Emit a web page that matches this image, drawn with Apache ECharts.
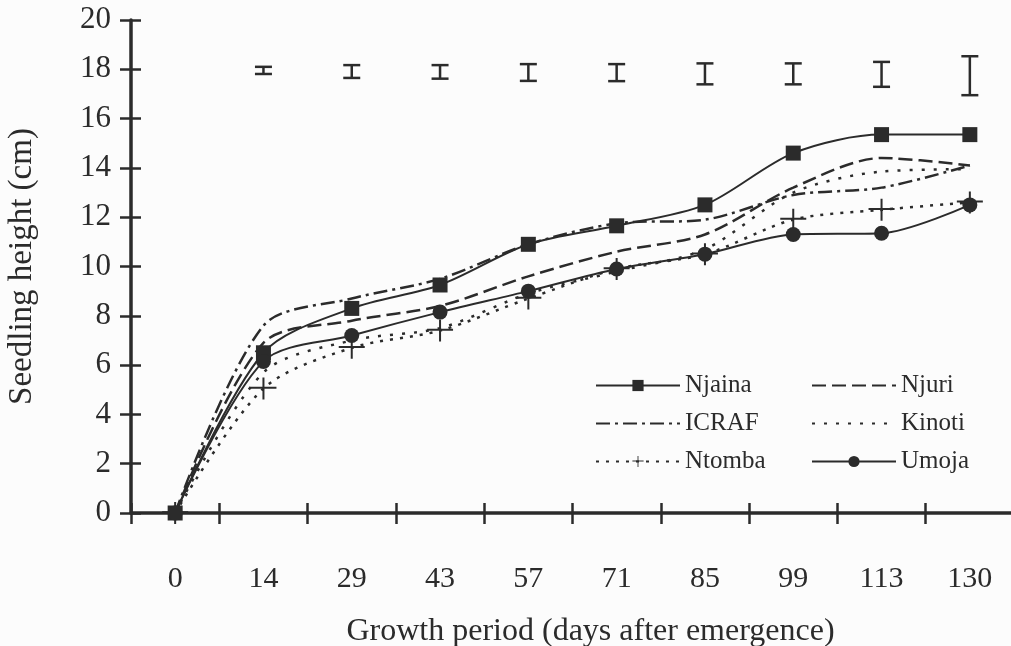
<!DOCTYPE html>
<html>
<head>
<meta charset="utf-8">
<script src="https://cdn.jsdelivr.net/npm/echarts@6/dist/echarts.min.js"></script>
<style>
  html, body { margin: 0; padding: 0; background: #fcfcfc; }
  #chart { width: 1011px; height: 646px; }
</style>
</head>
<body>
<div id="chart"></div>
<script>
// growth period (days after emergence)
var days = ['0', '14', '29', '43', '57', '71', '85', '99', '113', '130'];
var yTicks = [0, 20, 2];

// seedling height (cm) per provenance
var njaina = [0, 6.5, 8.3, 9.25, 10.9, 11.65, 12.5, 14.6, 15.35, 15.35];
var njuri  = [0, 6.9, 7.8, 8.4, 9.6, 10.6, 11.3, 13.2, 14.4, 14.1];
var icraf  = [0, 7.6, 8.7, 9.5, 10.9, 11.75, 11.9, 12.9, 13.2, 14.1];
var kinoti = [0, 5.7, 7.0, 7.5, 8.9, 9.8, 10.7, 13.0, 13.85, 13.95];
var ntomba = [0, 5.05, 6.7, 7.4, 8.7, 9.9, 10.5, 11.9, 12.3, 12.6];
var umoja  = [0, 6.15, 7.2, 8.15, 9.0, 9.9, 10.5, 11.3, 11.35, 12.5];

// LSD bars drawn at y = 18 (days 14..130)
var lsdLow  = [17.81, 17.65, 17.62, 17.53, 17.52, 17.39, 17.39, 17.29, 16.95];
var lsdHigh = [18.10, 18.17, 18.17, 18.21, 18.21, 18.24, 18.24, 18.30, 18.53];

var ink = '#2b2b2b';
var serif = '"Liberation Serif", "DejaVu Serif", serif';

var myChart = echarts.init(document.getElementById('chart'));

var plus = 'path://M0,9.2H26V11.2H0Z M12,0H14V22H12Z';

function lineSeries (name, data, dash, symbol, size) {
  return {
    name: name,
    type: 'line',
    data: data,
    smooth: 0.3,
    symbol: symbol || 'circle',
    symbolSize: size || 0,
    showSymbol: !!symbol,
    z: 3,
    lineStyle: { color: ink, width: dash === 'solid' ? 2 : 2.5, type: dash },
    itemStyle: { color: symbol ? ink : 'rgba(0,0,0,0)', borderWidth: 0 },
    emphasis: { disabled: true }
  };
}

var lsdData = lsdLow.map(function (lo, i) { return [i + 1, lo, lsdHigh[i]]; });

function legendCol (names, left) {
  return {
    data: names,
    orient: 'vertical',
    left: left,
    top: 373,
    padding: 0,
    itemWidth: 84, itemHeight: 14, itemGap: 13,
    textStyle: { fontFamily: serif, fontSize: 25, color: ink, lineHeight: 24 },
    selectedMode: false
  };
}

var option = {
  backgroundColor: '#fcfcfc',
  animation: false,
  textStyle: { fontFamily: serif },
  grid: { left: 131, right: -3, top: 20, bottom: 133, outerBoundsMode: 'none', containLabel: false },
  legend: [
    legendCol(['Njaina', 'ICRAF', 'Ntomba'], 595),
    legendCol(['Njuri', 'Kinoti', 'Umoja'], 811)
  ],
  xAxis: [{
    type: 'category',
    data: days,
    boundaryGap: true,
    name: 'Growth period (days after emergence)',
    nameLocation: 'middle',
    nameGap: 103,
    nameTextStyle: { fontFamily: serif, fontSize: 32, color: ink, padding: [0, 0, 0, 36] },
    axisLine: { lineStyle: { color: ink, width: 3.5 } },
    axisTick: { show: true, length: 11, lineStyle: { color: ink, width: 2.5 } },
    axisLabel: { fontFamily: serif, fontSize: 30, color: ink, margin: 51 },
    splitLine: { show: false }
  }, {
    type: 'category',
    data: days,
    boundaryGap: true,
    position: 'bottom',
    axisLine: { show: false },
    axisTick: { show: true, inside: true, length: 10, lineStyle: { color: ink, width: 2.5 } },
    axisLabel: { show: false },
    splitLine: { show: false }
  }],
  yAxis: [{
    type: 'value',
    min: yTicks[0], max: yTicks[1], interval: yTicks[2],
    name: 'Seedling height (cm)',
    nameLocation: 'middle',
    nameRotate: 90,
    nameGap: 92,
    nameTextStyle: { fontFamily: serif, fontSize: 33, color: ink },
    axisLine: { show: true, lineStyle: { color: ink, width: 3.5 } },
    axisTick: { show: true, length: 11, lineStyle: { color: ink, width: 2.5 } },
    axisLabel: { fontFamily: serif, fontSize: 31, color: ink, margin: 20 },
    splitLine: { show: false }
  }, {
    type: 'value',
    min: yTicks[0], max: yTicks[1], interval: yTicks[2],
    position: 'left',
    axisLine: { show: false },
    axisTick: { show: true, inside: true, length: 10, lineStyle: { color: ink, width: 2.5 } },
    axisLabel: { show: false },
    splitLine: { show: false }
  }],
  series: [
    lineSeries('Njaina', njaina, 'solid', 'rect', 15),
    lineSeries('Njuri', njuri, [14, 6]),
    lineSeries('ICRAF', icraf, [14, 5, 3, 5]),
    lineSeries('Kinoti', kinoti, [3, 9]),
    lineSeries('Ntomba', ntomba, [3, 7], plus, [26, 22]),
    lineSeries('Umoja', umoja, 'solid', 'circle', 15),
    {
      name: 'LSD',
      type: 'custom',
      data: lsdData,
      encode: { x: 0, y: [1, 2] },
      renderItem: function (params, api) {
        var lo = api.coord([api.value(0), api.value(1)]);
        var hi = api.coord([api.value(0), api.value(2)]);
        var half = 8.5;
        var st = { stroke: ink, lineWidth: 2.5 };
        return {
          type: 'group',
          children: [
            { type: 'line', shape: { x1: lo[0], y1: lo[1], x2: hi[0], y2: hi[1] }, style: st },
            { type: 'line', shape: { x1: lo[0] - half, y1: lo[1], x2: lo[0] + half, y2: lo[1] }, style: st },
            { type: 'line', shape: { x1: hi[0] - half, y1: hi[1], x2: hi[0] + half, y2: hi[1] }, style: st }
          ]
        };
      }
    }
  ]
};

myChart.setOption(option);
window.addEventListener('resize', function () {
  myChart.resize();
});
</script>
</body>
</html>
